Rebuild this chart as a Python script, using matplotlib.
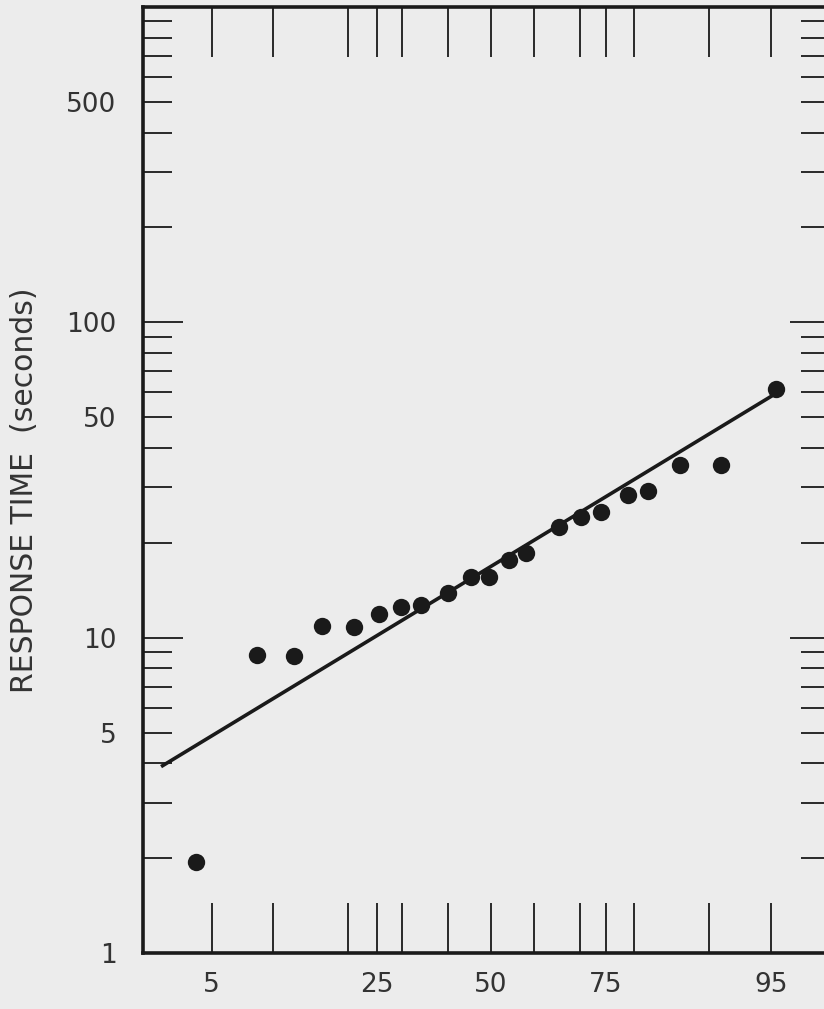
import math
import numpy as np
import matplotlib
matplotlib.use('Agg')
import matplotlib.pyplot as plt
from statistics import NormalDist

# cumulative probability (%) of each measured response
prob = [4.1, 8.4, 12.3, 16.0, 20.9, 25.4, 29.7, 33.9, 39.9, 45.2, 49.4,
        54.1, 58.1, 65.5, 70.1, 74.1, 78.9, 82.2, 86.7, 91.2, 95.3]
# response time (s)
resp = [1.94, 8.8, 8.75, 10.9, 10.8, 11.9, 12.5, 12.7, 13.9, 15.6, 15.6,
        17.6, 18.6, 22.5, 24.2, 25.1, 28.4, 29.1, 35.2, 35.4, 61.3]
# fitted log-normal line, end points
fit_prob = [2.6, 95.2]
fit_resp = [3.9, 59.0]

xticks = [5, 10, 20, 25, 30, 40, 50, 60, 70, 75, 80, 90, 95]
xlabels = ['5', '', '', '25', '', '', '50', '', '', '75', '', '', '95']
yticks = [1, 10, 100, 1000]
ylabels = ['1', '10', '100', '']
yminor = [m * d for d in (1, 10, 100) for m in range(2, 10)]
yminor_labels = ['500' if v == 500 else '50' if v == 50 else '5' if v == 5 else ''
                 for v in yminor]

# normal probability scale for the x axis
_nd = NormalDist()
_ppf = np.vectorize(lambda p: _nd.inv_cdf(min(max(p / 100.0, 1e-9), 1 - 1e-9)),
                    otypes=[float])
_cdf = np.vectorize(lambda z: 50.0 * (1.0 + math.erf(z / math.sqrt(2.0))),
                    otypes=[float])

bg = '#ececec'
ink = '#1a1a1a'
txt = '#333333'

fig = plt.figure(figsize=(8.24, 10.09), dpi=100, facecolor=bg)
ax = fig.add_axes([0.1735, 0.0555, 0.834, 0.9375], facecolor=bg)

ax.set_xscale('function', functions=(_ppf, _cdf))
ax.set_yscale('log')

ax.plot(fit_prob, fit_resp, color=ink, linewidth=2.6, solid_capstyle='butt')
ax.plot(prob, resp, 'o', color=ink, markersize=12.5, markeredgewidth=0)

ax.set_xlim(2.02, 97.7)
ax.set_ylim(1, 1000)

ax.set_xticks(xticks)
ax.set_xticklabels(xlabels)
ax.xaxis.set_minor_locator(matplotlib.ticker.NullLocator())
ax.set_yticks(yticks)
ax.set_yticklabels(ylabels)
ax.set_yticks(yminor, minor=True)
ax.set_yticklabels(yminor_labels, minor=True)

ax.tick_params(axis='x', which='major', direction='in', length=36, width=1.3,
               top=True, bottom=True, pad=14, labelsize=19, colors=ink,
               labelcolor=txt)
ax.tick_params(axis='y', which='major', direction='in', length=29, width=1.3,
               left=True, right=True, pad=19, labelsize=19, colors=ink,
               labelcolor=txt)
ax.tick_params(axis='y', which='minor', direction='in', length=21, width=1.3,
               left=True, right=True, pad=19, labelsize=19, colors=ink,
               labelcolor=txt)

for s in ax.spines.values():
    s.set_linewidth(2.6)
    s.set_color(ink)

ax.set_ylabel('RESPONSE TIME  (seconds)', fontsize=21.5, color=txt)
ax.yaxis.set_label_coords(-0.151, 0.489)

plt.savefig('out.png', dpi=100, facecolor=bg)
